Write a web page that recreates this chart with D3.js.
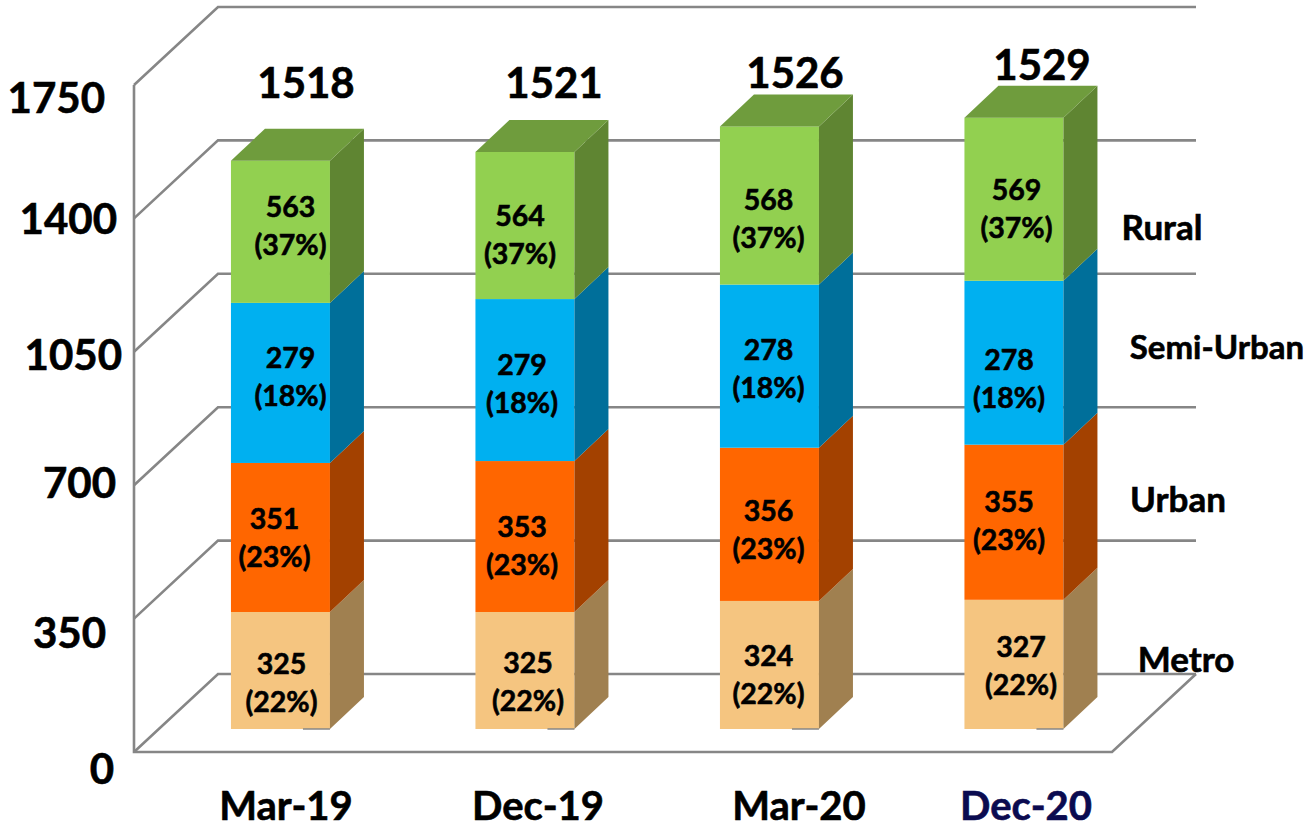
<!DOCTYPE html>
<html><head><meta charset="utf-8">
<script src="https://cdn.jsdelivr.net/npm/d3@7"></script>
<style>html,body{margin:0;padding:0;background:#fff}svg{display:block}text{font-family:Lato,"Open Sans",sans-serif;font-weight:700;fill:#000;stroke:currentColor;stroke-width:.6px;color:#000}</style>
</head><body><svg id="c" width="1310" height="828"></svg>
<script>
// Data
const categories = ["Mar-19","Dec-19","Mar-20","Dec-20"];
const seriesNames = ["Metro","Urban","Semi-Urban","Rural"];
const totals = [1518,1521,1526,1529];
const metroValues = [325,325,324,327];
const urbanValues = [351,353,356,355];
const semiUrbanValues = [279,279,278,278];
const ruralValues = [563,564,568,569];
const metroPct = ["22%","22%","22%","22%"];
const urbanPct = ["23%","23%","23%","23%"];
const semiUrbanPct = ["18%","18%","18%","18%"];
const ruralPct = ["37%","37%","37%","37%"];
// The drawn heights in the source picture are not proportional to the labels
const metroDrawn = [307,307,336,339];
const urbanDrawn = [391,396,402,407];
const semiUrbanDrawn = [420,425,428,430];
const ruralDrawn = [373,386,415,428];
const yTicks = [0,350,700,1050,1400,1750];

const frontColors = ["#f5c580","#ff6600","#00b0f0","#92d050"];
const sideColors = ["#a08050","#a34100","#006f9a","#5f8532"];
const topColor = "#6f9c3d";
const grid = "#868686";

// Layout nudges for hand-placed labels of the source picture
const labelDx = [[1,-6,10,10],[3,-3,-3,-5],[-1,-1,-1,-1],[7,-5,-5,2.5]];
const labelDy = [[12,0,-7,-7],[11,8,3,8],[9,5,2,12],[1,-2,15,9]];
const yLabelRight = [114,106,116,122,117,105];
const yLabelY = [768,632,482,354,218,97];
const seriesLabelCx = [1186,1178,1217,1162];
const seriesLabelY = [658,498,346,226];
const seriesLabelSize = [35,35,33,35];
const catCx = [286,538,799,1026];
const catY = 804.5;
const totalCx = [306,554,795,1042];
const totalY = [82,82,72,64];

const svg = d3.select("#c");
const wallX0 = 134, wallX1 = 1112, depthX = 84, depthY = 78;
const y = d3.scaleLinear().domain([0,1750]).range([674,7]);
const x = d3.scaleBand().domain(categories).range([wallX0,wallX1]);
const barW = 99, sideX = 34, sideY = 32, barShiftX = 24.2, barDropY = 55;

// Walls and floor
const g = svg.append("g").attr("fill","none").attr("stroke",grid).attr("stroke-width",2.6);
yTicks.forEach(t=>{
  g.append("path").attr("d",d3.line()([[wallX0,y(t)+depthY],[wallX0+depthX,y(t)],[wallX1+depthX,y(t)]]));
});
g.append("path").attr("d",d3.line()([[wallX0,y(1750)+depthY],[wallX0,y(0)+depthY],[wallX1,y(0)+depthY],[wallX1+depthX,y(0)]]));

// Bars
const drawn = [metroDrawn,urbanDrawn,semiUrbanDrawn,ruralDrawn];
const vals = [metroValues,urbanValues,semiUrbanValues,ruralValues];
const pcts = [metroPct,urbanPct,semiUrbanPct,ruralPct];
const bars = svg.append("g");
const texts = svg.append("g");
categories.forEach((c,i)=>{
  const bx = x(c)+x.step()/2+barShiftX-barW/2;
  let cum = 0;
  drawn.forEach((arr,s)=>{
    const y0 = y(cum)+barDropY, y1 = y(cum+arr[i])+barDropY;
    bars.append("rect").attr("x",bx).attr("y",y1).attr("width",barW).attr("height",y0-y1).attr("fill",frontColors[s]);
    bars.append("path").attr("fill",sideColors[s]).attr("d",d3.line()([[bx+barW,y0],[bx+barW+sideX,y0-sideY],[bx+barW+sideX,y1-sideY],[bx+barW,y1]])+"Z");
    const cx = bx+barW/2+labelDx[i][s], cy=(y0+y1)/2+labelDy[i][s];
    texts.append("text").attr("x",cx).attr("y",cy-19).attr("text-anchor","middle").attr("dominant-baseline","central").attr("font-size",28.5).text(vals[s][i]);
    texts.append("text").attr("x",cx).attr("y",cy+19).attr("text-anchor","middle").attr("dominant-baseline","central").attr("font-size",28.5).text("("+pcts[s][i]+")");
    cum += arr[i];
    if(s===3){
      bars.append("path").attr("fill",topColor).attr("d",d3.line()([[bx,y1],[bx+sideX,y1-sideY],[bx+barW+sideX,y1-sideY],[bx+barW,y1]])+"Z");
    }
  });
  bars.append("line").attr("x1",bx+72).attr("x2",bx+barW).attr("y1",y(0)+barDropY).attr("y2",y(0)+barDropY).attr("stroke",grid).attr("stroke-width",1.5);
  texts.append("text").attr("x",totalCx[i]).attr("y",totalY[i]).attr("text-anchor","middle").attr("dominant-baseline","central").attr("font-size",42).text(totals[i]);
  texts.append("text").attr("x",catCx[i]).attr("y",catY).attr("text-anchor","middle").attr("dominant-baseline","central").attr("font-size",40).style("fill",i===3?"#0b0b50":"#000").style("color",i===3?"#0b0b50":"#000").text(c);
});
yTicks.forEach((t,i)=>{
  texts.append("text").attr("x",yLabelRight[i]).attr("y",yLabelY[i]).attr("text-anchor","end").attr("dominant-baseline","central").attr("font-size",42).text(t);
});
seriesNames.forEach((n,i)=>{
  texts.append("text").attr("x",seriesLabelCx[i]).attr("y",seriesLabelY[i]).attr("text-anchor","middle").attr("dominant-baseline","central").attr("font-size",seriesLabelSize[i]).text(n);
});
</script></body></html>
